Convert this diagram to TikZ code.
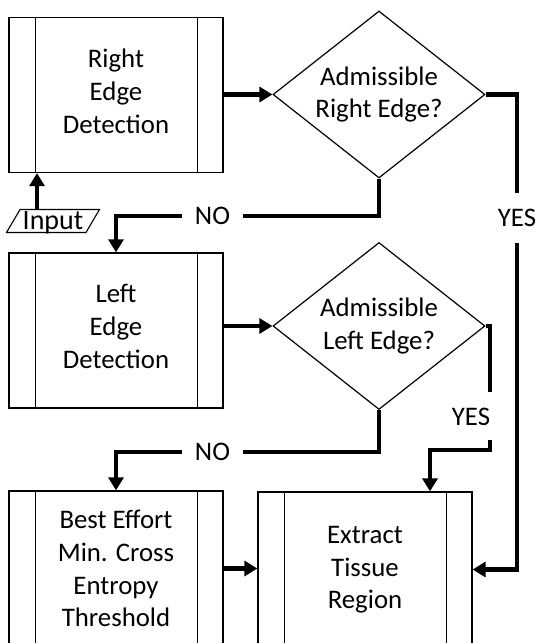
\documentclass[tikz,border=0pt]{standalone}
\usepackage{fontspec}
\setmainfont{Carlito}
\usetikzlibrary{arrows.meta,shapes.geometric}
\begin{document}
\begin{tikzpicture}[x=1pt,y=-1pt,
  every node/.style={font=\fontsize{26.8}{32.8}\selectfont},
  proc/.style={draw, line width=1.3pt, minimum width=214pt, minimum height=155pt,
               align=center, inner sep=0pt},
  decision/.style={draw, diamond, aspect=1.27, line width=1.2pt, minimum width=212pt,
                   minimum height=167pt, align=center, inner sep=0pt},
  flow/.style={line width=4.5pt, line join=miter},
  arr/.style={flow, -{Triangle[length=13pt,width=15pt]}},
  gapv/.style={inner sep=0pt, minimum height=50pt},
  gaph/.style={inner sep=0pt, minimum width=61pt},
  iobox/.style={draw, trapezium, trapezium left angle=53, trapezium right angle=127,
                trapezium stretches body, minimum width=93pt, minimum height=23pt,
                inner sep=0pt, line width=1.1pt, text depth=0pt,
                font=\fontsize{28}{32}\selectfont}]
\useasboundingbox (0,0) rectangle (538,643);
\clip (0,0) rectangle (538,643);

% process boxes
\node[proc, text depth=8pt] (r1) at (116,95)    {Right\\Edge\\Detection};
\node[proc, text depth=8pt] (r2) at (116,330.5) {Left\\Edge\\Detection};
\node[proc] (r3) at (116,568.5) {Best Effort\\Min. Cross\\Entropy\\Threshold};
\node[proc, text depth=4pt] (ex) at (365,569.5) {Extract\\Tissue\\Region};

% predefined-process side bars
\foreach \n in {r1,r2,r3,ex}{
  \draw[line width=1.1pt] ([xshift=27pt]\n.north west) -- ([xshift=27pt]\n.south west);
  \draw[line width=1.1pt] ([xshift=-26pt]\n.north east) -- ([xshift=-26pt]\n.south east);
}

% decisions
\node[decision] (d1) at (379,94.5) {Admissible\\Right Edge?};
\node[decision] (d2) at (379,326)  {Admissible\\Left Edge?};

% input
\node[iobox] (in) at (53,221) {Input};
\coordinate (inTop) at (37,210);

% branch labels
\node[gapv] (yes1) at (517,218) {YES};
\node[gaph] (no1)  at (212.5,216) {NO};
\node[gaph] (no2)  at (212.5,452) {NO};
\node (yes2) at (471,417) {YES};

\coordinate (y2a) at (490,392);
\coordinate (y2b) at (490,440);
\coordinate (y2c) at (430,450);

% connectors
\draw[arr] (inTop) -- (inTop |- r1.south);
\draw[arr] (d1.west -| r1.east) -- (d1.west);
\draw[flow] (d1.east) -| (yes1.north);
\draw[arr] (yes1.south) |- (ex.east);
\draw[flow] (d1.south) |- (no1.east);
\draw[arr] (no1.west) -| (r2.north);
\draw[arr] (d2.west -| r2.east) -- (d2.west);
\draw[flow] (d2.east) -| (y2a);
\draw[arr] (y2b) |- (y2c) -- (y2c |- ex.north);
\draw[flow] (d2.south) |- (no2.east);
\draw[arr] (no2.west) -| (r3.north);
\draw[arr] (r3.east) -- (r3.east -| ex.west);
\end{tikzpicture}
\end{document}
